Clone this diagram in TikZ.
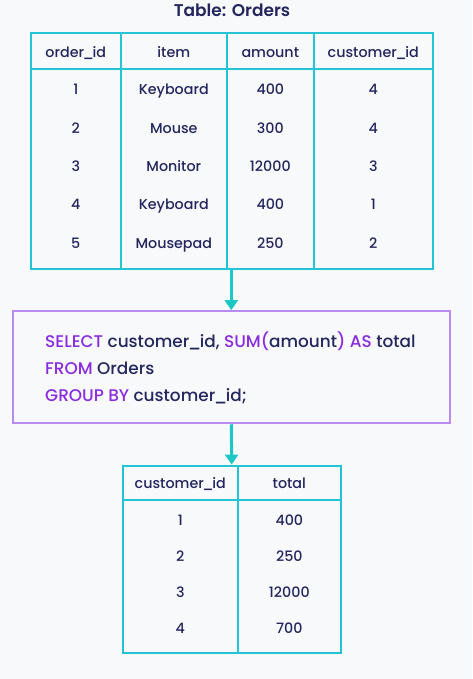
\documentclass[tikz,border=0pt]{standalone}
\usepackage{fontspec}
\IfFontExistsTF{Poppins Medium}{\setmainfont{Poppins Medium}}{\setmainfont{Poppins}}
\IfFontExistsTF{Poppins SemiBold}{\newfontfamily\titlefont{Poppins SemiBold}}{\newfontfamily\titlefont{Poppins}}
\newcommand\usc{\kern-1.4pt\_\kern-1.4pt}
\usetikzlibrary{arrows.meta}
\definecolor{bg}{HTML}{F8F9FB}
\definecolor{tline}{HTML}{22C4D6}
\definecolor{arr}{HTML}{1CC8C6}
\definecolor{pbox}{HTML}{B98AF0}
\definecolor{kw}{HTML}{8A2BE2}
\definecolor{txt}{HTML}{25265E}
\begin{document}
\begin{tikzpicture}[x=1pt,y=-1pt,
  cell/.style={font=\fontsize{14.3}{17}\selectfont, text=txt, anchor=base, inner sep=0pt},
  sqlline/.style={font=\fontsize{16.9}{20}\selectfont, text=txt, anchor=base west, inner sep=0pt},
  grid/.style={draw=tline, line width=2.2pt},
  tbl/.style={draw=tline, line width=2.2pt, inner sep=0pt},
  flow/.style={draw=arr, line width=3pt, -{Triangle[length=10pt,width=13pt]}},
  kwd/.style={text=kw}]
\path[fill=bg] (0,0) rectangle (472,679);
\useasboundingbox (0,0) rectangle (472,679);

% title
\node[font=\fontsize{17}{20}\selectfont\titlefont, text=txt, anchor=base, inner sep=0pt] (title) at (232,16.7) {Table: Orders};

% table 1
\node[tbl, minimum width=402pt, minimum height=236pt] (t1) at (232,150.7) {};
\draw[grid] (120.7,32.7) -- (120.7,268.7);
\draw[grid] (227,32.7) -- (227,268.7);
\draw[grid] (313.7,32.7) -- (313.7,268.7);
\draw[grid] (31,69) -- (433,69);

\node[cell] (h11) at (75.8,57.5) {order\usc id};
\node[cell] (h12) at (173.8,57.5) {item};
\node[cell] (h13) at (270.3,57.5) {amount};
\node[cell] (h14) at (373.3,57.5) {customer\usc id};

\node[cell] (a11) at (75.8,95) {1};
\node[cell] (a12) at (173.8,95) {Keyboard};
\node[cell] (a13) at (270.3,95) {400};
\node[cell] (a14) at (373.3,95) {4};

\node[cell] (a21) at (75.8,133.3) {2};
\node[cell] (a22) at (173.8,133.3) {Mouse};
\node[cell] (a23) at (270.3,133.3) {300};
\node[cell] (a24) at (373.3,133.3) {4};

\node[cell] (a31) at (75.8,171.6) {3};
\node[cell] (a32) at (173.8,171.6) {Monitor};
\node[cell] (a33) at (270.3,171.6) {12000};
\node[cell] (a34) at (373.3,171.6) {3};

\node[cell] (a41) at (75.8,209.9) {4};
\node[cell] (a42) at (173.8,209.9) {Keyboard};
\node[cell] (a43) at (270.3,209.9) {400};
\node[cell] (a44) at (373.3,209.9) {1};

\node[cell] (a51) at (75.8,248.2) {5};
\node[cell] (a52) at (173.8,248.2) {Mousepad};
\node[cell] (a53) at (270.3,248.2) {250};
\node[cell] (a54) at (373.3,248.2) {2};

% SQL box
\node[draw=pbox, line width=1.8pt, minimum width=437.3pt, minimum height=112.3pt, inner sep=0pt] (sql) at (231.3,367.2) {};
\node[sqlline] (q1) at (45,347.3) {\textcolor{kw}{SELECT} customer\usc id, \textcolor{kw}{SUM(}amount\textcolor{kw}{)} \textcolor{kw}{AS} total};
\node[sqlline] (q2) at (45,374.5) {\textcolor{kw}{FROM} Orders};
\node[sqlline] (q3) at (45,401.7) {\textcolor{kw}{GROUP BY} customer\usc id;};

% table 2
\node[tbl, minimum width=218pt, minimum height=187.6pt] (t2) at (231.7,559.5) {};
\draw[grid] (238,465.7) -- (238,653.3);
\draw[grid] (122.7,500.3) -- (340.7,500.3);

\node[cell] (h21) at (180.3,488.3) {customer\usc id};
\node[cell] (h22) at (289.3,488.3) {total};

\node[cell] (b11) at (180.3,525) {1};
\node[cell] (b12) at (289.3,525) {400};
\node[cell] (b21) at (180.3,561.2) {2};
\node[cell] (b22) at (289.3,561.2) {250};
\node[cell] (b31) at (180.3,597.4) {3};
\node[cell] (b32) at (289.3,597.4) {12000};
\node[cell] (b41) at (180.3,633.6) {4};
\node[cell] (b42) at (289.3,633.6) {700};

% arrows
\draw[flow] (sql.north |- t1.south) -- (sql.north);
\draw[flow] (sql.south) -- (t2.north);
\end{tikzpicture}
\end{document}
